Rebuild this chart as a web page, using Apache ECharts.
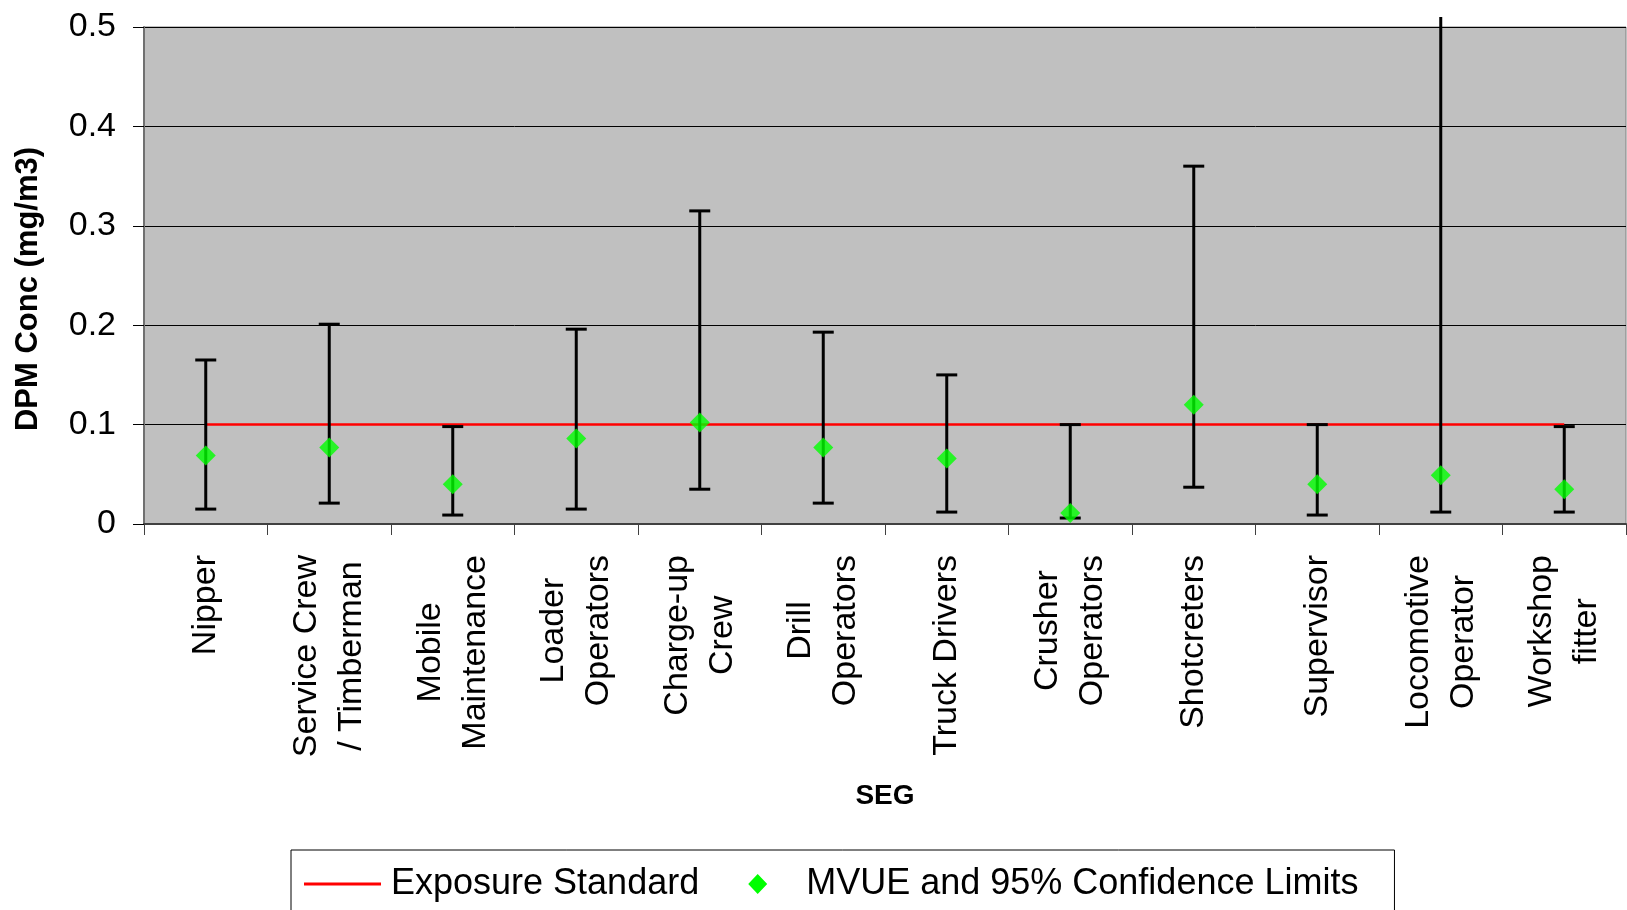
<!DOCTYPE html>
<html>
<head>
<meta charset="utf-8">
<title>DPM Concentration by SEG</title>
<script src="https://cdn.jsdelivr.net/npm/echarts@6/dist/echarts.min.js"></script>
<style>
  html, body { margin: 0; padding: 0; background: #ffffff; }
  #chart { width: 1627px; height: 910px; }
</style>
</head>
<body>
<div id="chart"></div>
<script>
// Similar exposure groups (SEG)
const categories = [
  'Nipper',
  'Service Crew\n/ Timberman',
  'Mobile\nMaintenance',
  'Loader\nOperators',
  'Charge-up\nCrew',
  'Drill\nOperators',
  'Truck Drivers',
  'Crusher\nOperators',
  'Shotcreters',
  'Supervisor',
  'Locomotive\nOperator',
  'Workshop\nfitter'
];

// MVUE of DPM concentration (mg/m3)
const mvue = [0.069, 0.077, 0.040, 0.086, 0.102, 0.077, 0.066, 0.011, 0.120, 0.040, 0.049, 0.035];

// 95% confidence limits (mg/m3)
const lower95 = [0.015, 0.021, 0.009, 0.015, 0.035, 0.021, 0.012, 0.006, 0.037, 0.009, 0.012, 0.012];
const upper95 = [0.165, 0.201, 0.098, 0.196, 0.315, 0.193, 0.150, 0.100, 0.360, 0.100, 0.510, 0.098];

// Exposure standard (mg/m3)
const exposureStandard = [0.1, 0.1, 0.1, 0.1, 0.1, 0.1, 0.1, 0.1, 0.1, 0.1, 0.1, 0.1];

// Value axis ticks
const yTicks = [0, 0.1, 0.2, 0.3, 0.4, 0.5];

const FONT = "'Liberation Sans', Arial, sans-serif";
const Y_MIN = yTicks[0];
const Y_MAX = yTicks[yTicks.length - 1];
const Y_STEP = yTicks[1] - yTicks[0];

const RED = '#ff0000';
const GREEN = '#00ff00';

// Legend icons span the full 77x20 item box so both entries lay out alike
const LINE_ICON = 'path://M0,8.5 L77,8.5 L77,11.5 L0,11.5 Z M0,0 L0.01,0 L0.01,0.01 Z M0,20 L0.01,20 L0.01,19.99 Z';
const DIAMOND_ICON = 'path://M0,10 L0.01,10 L0.01,10.01 Z M77,10 L76.99,10 L76.99,10.01 Z M38.5,0 L48,10 L38.5,20 L29,10 Z';

const errorData = categories.map((c, i) => [i, lower95[i], upper95[i]]);

const chart = echarts.init(document.getElementById('chart'), null, { renderer: 'canvas' });

chart.setOption({
  backgroundColor: '#ffffff',
  animation: false,
  textStyle: { fontFamily: FONT, color: '#000' },
  grid: {
    left: 144,
    right: 1,
    top: 27,
    bottom: 386,
    show: true,
    backgroundColor: '#c0c0c0',
    borderColor: '#808080',
    borderWidth: 1
  },
  legend: {
    left: 291,
    top: 850,
    orient: 'horizontal',
    padding: [16, 36, 20, 13],
    borderColor: '#000',
    borderWidth: 1,
    backgroundColor: '#ffffff',
    itemWidth: 77,
    itemHeight: 20,
    itemGap: 20,
    symbolKeepAspect: true,
    selectedMode: false,
    textStyle: {
      fontFamily: FONT,
      fontSize: 36,
      lineHeight: 36,
      color: '#000',
      padding: [0, 0, 0, 5]
    },
    data: [
      {
        name: 'Exposure Standard',
        icon: LINE_ICON,
        itemStyle: { color: RED, borderWidth: 0 }
      },
      {
        name: 'MVUE and 95% Confidence Limits',
        icon: DIAMOND_ICON,
        itemStyle: { color: GREEN, borderWidth: 0 }
      }
    ]
  },
  xAxis: {
    type: 'category',
    data: categories,
    boundaryGap: true,
    name: 'SEG',
    nameLocation: 'middle',
    nameGap: 258,
    nameTextStyle: { fontFamily: FONT, fontSize: 28, fontWeight: 'bold', color: '#000' },
    axisLine: { show: true, lineStyle: { color: '#404040', width: 2 } },
    axisTick: { show: true, alignWithLabel: false, length: 11, lineStyle: { color: '#404040', width: 1 } },
    splitLine: { show: false },
    axisLabel: {
      interval: 0,
      rotate: 90,
      margin: 31,
      color: '#000',
      fontFamily: FONT,
      fontSize: 34,
      lineHeight: 45,
      formatter: v => v.split('\n').map(s => '{c|' + s + '}').join('\n'),
      rich: {
        c: { align: 'center', fontFamily: FONT, fontSize: 34, lineHeight: 45, color: '#000' }
      }
    }
  },
  yAxis: {
    type: 'value',
    min: Y_MIN,
    max: Y_MAX,
    interval: Y_STEP,
    name: 'DPM Conc (mg/m3)',
    nameLocation: 'middle',
    nameGap: 100,
    nameRotate: 90,
    nameTextStyle: {
      fontFamily: FONT,
      fontSize: 31,
      fontWeight: 'bold',
      color: '#000',
      padding: [0, 27, 0, 0]
    },
    axisLine: { show: true, lineStyle: { color: '#707070', width: 2 } },
    axisTick: { show: true, length: 11, lineStyle: { color: '#000', width: 1 } },
    axisLabel: {
      margin: 28,
      color: '#000',
      fontFamily: FONT,
      fontSize: 34
    },
    splitLine: { show: true, lineStyle: { color: '#000', width: 1 } }
  },
  series: [
    {
      name: 'Exposure Standard',
      type: 'line',
      data: exposureStandard,
      symbol: 'none',
      lineStyle: { color: RED, width: 2.5 },
      itemStyle: { color: RED },
      z: 2
    },
    {
      // 95% confidence interval whiskers
      name: 'MVUE and 95% Confidence Limits',
      type: 'custom',
      data: errorData,
      z: 3,
      clip: false,
      itemStyle: { color: GREEN },
      encode: { x: 0, y: [1, 2] },
      renderItem: function (params, api) {
        const idx = api.value(0);
        const lo = api.value(1);
        const hi = api.value(2);
        const pTop = api.coord([idx, hi]);
        const pBot = api.coord([idx, lo]);
        const half = 10.5;
        const style = { stroke: '#000', lineWidth: 3, fill: null };
        const children = [
          { type: 'line', shape: { x1: pTop[0], y1: pTop[1], x2: pBot[0], y2: pBot[1] }, style: style },
          { type: 'line', shape: { x1: pBot[0] - half, y1: pBot[1], x2: pBot[0] + half, y2: pBot[1] }, style: style }
        ];
        // limits above the axis range run off the plot without a cap
        if (hi <= Y_MAX) {
          children.push({ type: 'line', shape: { x1: pTop[0] - half, y1: pTop[1], x2: pTop[0] + half, y2: pTop[1] }, style: style });
        }
        return { type: 'group', children: children };
      }
    },
    {
      name: 'MVUE and 95% Confidence Limits',
      type: 'scatter',
      data: mvue,
      symbol: 'diamond',
      symbolSize: 20,
      itemStyle: { color: GREEN },
      z: 4
    }
  ]
});
</script>
</body>
</html>
